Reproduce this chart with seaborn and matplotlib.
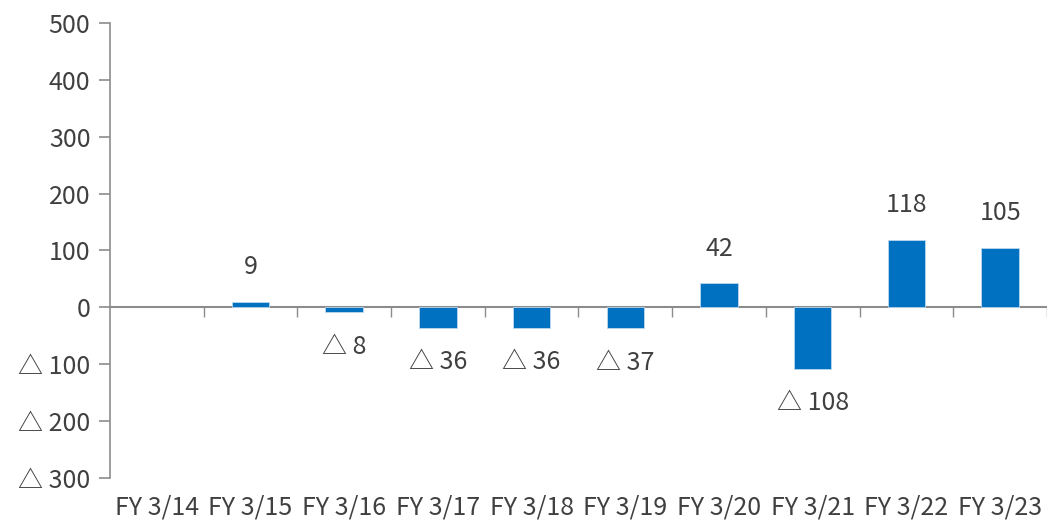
import numpy as np
import pandas as pd
import matplotlib
matplotlib.use("Agg")
import matplotlib.pyplot as plt
import seaborn as sns

# --- data ---
categories = ["FY 3/14", "FY 3/15", "FY 3/16", "FY 3/17", "FY 3/18",
              "FY 3/19", "FY 3/20", "FY 3/21", "FY 3/22", "FY 3/23"]
values = [np.nan, 9, -8, -36, -36, -37, 42, -108, 118, 105]
y_ticks = [-300, -200, -100, 0, 100, 200, 300, 400, 500]

BAR_COLOR = "#0070C0"
AXIS_COLOR = "#8C8C8C"
TEXT_COLOR = "#404040"
FONT_SIZE = 18


def fmt(v):
    # negative numbers are written with a triangle, Japanese style
    if v < 0:
        return f"△ {abs(int(v))}"
    return f"{int(v)}"


sns.set_style("white")
plt.rcParams["font.family"] = ["Noto Sans CJK JP", "DejaVu Sans"]

df = pd.DataFrame({"period": categories, "value": values})

fig = plt.figure(figsize=(10.47, 5.2), dpi=100)
ax = fig.add_axes([0.105, 0.081, 0.895, 0.875])

sns.barplot(data=df, x="period", y="value", order=categories,
            color=BAR_COLOR, saturation=1, width=0.4, errorbar=None,
            edgecolor="#BDD7EE", linewidth=0.6, ax=ax)

# value labels above / below the bars
for i, v in enumerate(values):
    if np.isnan(v):
        continue
    off = 25 if v >= 0 else -25
    ax.annotate(fmt(v), (i, v), xytext=(0, off), textcoords="offset points",
                ha="center", va="center", fontsize=FONT_SIZE, color=TEXT_COLOR)

ax.set_xlim(-0.5, len(categories) - 0.5)
ax.set_ylim(y_ticks[0], y_ticks[-1])
ax.set_yticks(y_ticks)
ax.set_yticklabels([fmt(t) for t in y_ticks])
ax.set_xlabel("")
ax.set_ylabel("")

# spines: left axis + zero line with boundary ticks
for side in ["top", "right"]:
    ax.spines[side].set_visible(False)
ax.spines["left"].set_color(AXIS_COLOR)
ax.spines["left"].set_linewidth(1.2)
ax.spines["bottom"].set_position(("data", 0))
ax.spines["bottom"].set_color(AXIS_COLOR)
ax.spines["bottom"].set_linewidth(1.5)
ax.spines["bottom"].set_zorder(0)

ax.tick_params(axis="y", left=True, direction="out", length=8, width=1.2,
               color=AXIS_COLOR, labelsize=FONT_SIZE, labelcolor=TEXT_COLOR,
               pad=6)
ax.set_xticks([])
ax.set_xticks(np.arange(len(categories)) + 0.5, minor=True)
ax.tick_params(axis="x", which="minor", bottom=True, direction="out",
               length=7, width=1.0, color=AXIS_COLOR)

# category names sit at the bottom of the frame, not on the zero line
sec = ax.secondary_xaxis("bottom")
sec.set_xticks(np.arange(len(categories)))
sec.set_xticklabels(categories)
sec.tick_params(length=0, labelsize=FONT_SIZE, labelcolor=TEXT_COLOR, pad=12)
sec.spines["bottom"].set_visible(False)

fig.savefig("out.png", dpi=100)
